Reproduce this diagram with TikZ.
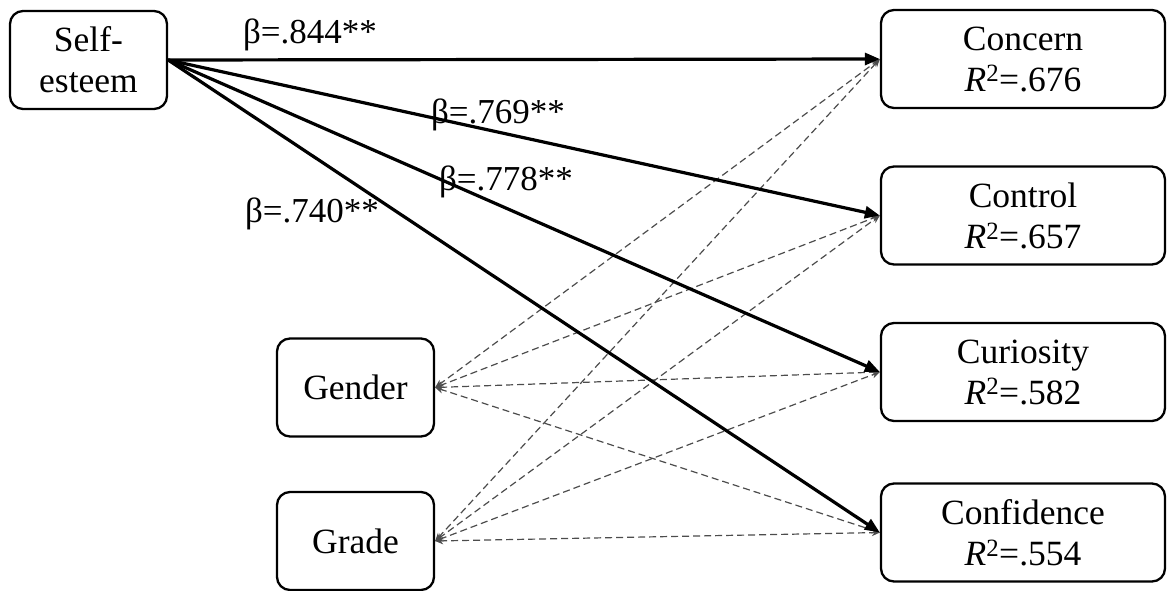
\documentclass[tikz,border=0pt]{standalone}
\usepackage{fontspec}
\setmainfont{Liberation Serif}
\newfontfamily\labfont{Liberation Serif}
\usetikzlibrary{arrows.meta}
\begin{document}
\begin{tikzpicture}[x=1pt,y=-1pt,
  box/.style={draw, line width=2.3pt, rounded corners=13pt, minimum width=#1, minimum height=98pt,
    align=center, font=\fontsize{35.5}{41}\selectfont, inner sep=0pt},
  beta path/.style={line width=3.2pt, -{Triangle[length=15pt,width=12pt]}},
  cov path/.style={line width=1.2pt, draw=black!70, dash pattern=on 7pt off 4pt,
    {Stealth[length=8pt,width=7pt,open]}-{Stealth[length=8pt,width=7pt]}},
  lab/.style={anchor=base, inner sep=0pt, font=\labfont\fontsize{35}{41}\selectfont}]
\useasboundingbox (0,0) rectangle (1168,590);
\node[box=157pt] (se) at (88.5,60) {Self-\\esteem};
\node[box=284pt] (concern) at (1023,59) {Concern\\\textit{R}\textsuperscript{2}=.676};
\node[box=284pt] (control) at (1023,215.5) {Control\\\textit{R}\textsuperscript{2}=.657};
\node[box=284pt] (curiosity) at (1023,372) {Curiosity\\\textit{R}\textsuperscript{2}=.582};
\node[box=284pt] (confidence) at (1023,532.5) {Confidence\\\textit{R}\textsuperscript{2}=.554};
\node[box=157pt] (gender) at (355.5,387.5) {Gender};
\node[box=157pt] (grade) at (355.5,541) {Grade};
\foreach \t in {concern,control,curiosity,confidence}{
  \draw[cov path] (gender.east) -- (\t.west);
  \draw[cov path] (grade.east) -- (\t.west);
}
\draw[beta path] (se.east) -- (concern.west);
\draw[beta path] (se.east) -- (control.west);
\draw[beta path] (se.east) -- (curiosity.west);
\draw[beta path] (se.east) -- (confidence.west);
\node[lab] (b1) at (310,43) {β=.844**};
\node[lab] (b2) at (498,123) {β=.769**};
\node[lab] (b3) at (506,190) {β=.778**};
\node[lab] (b4) at (312,222) {β=.740**};
\end{tikzpicture}
\end{document}
